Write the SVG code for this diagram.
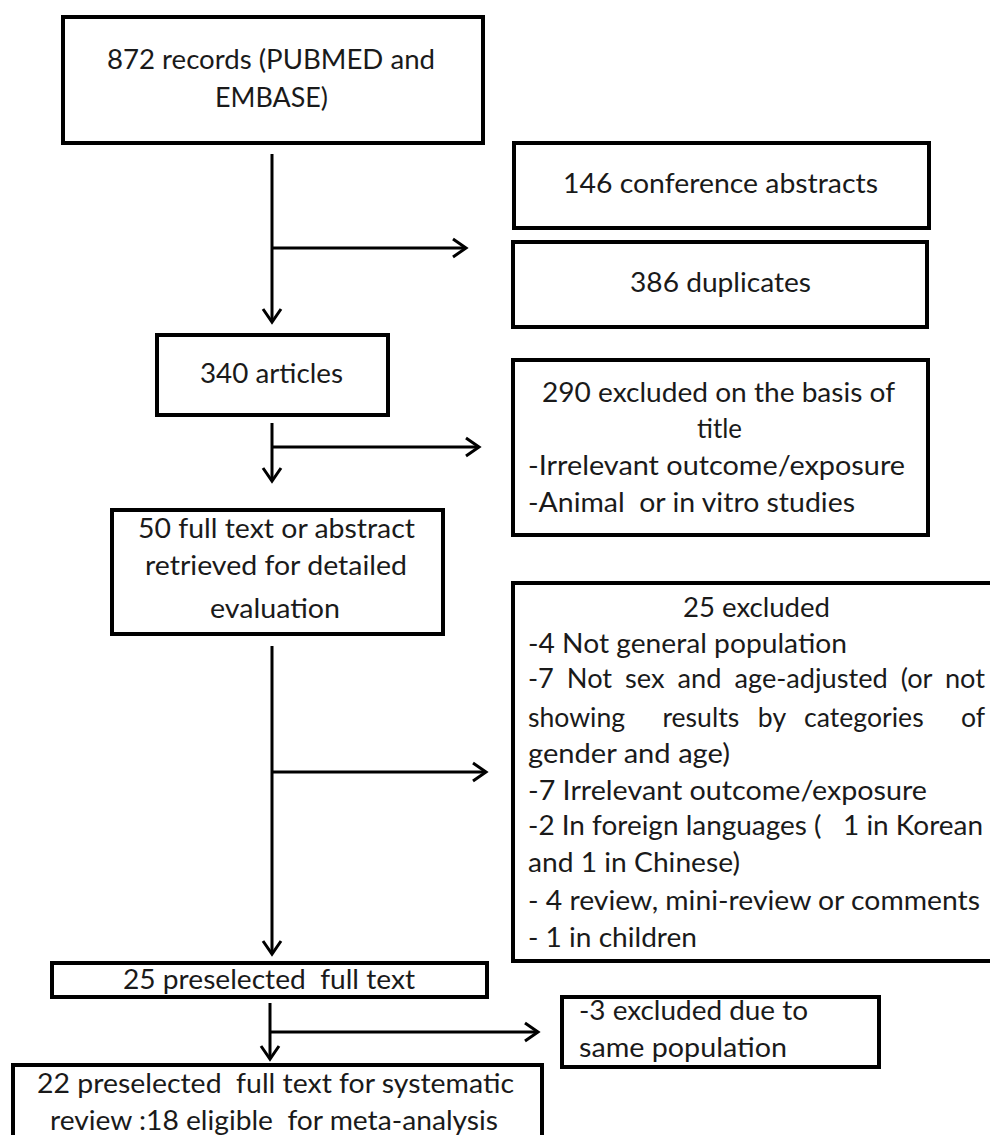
<svg xmlns="http://www.w3.org/2000/svg" width="990" height="1135" viewBox="0 0 990 1135">
<style>
  .box { fill: #ffffff; stroke: #000000; stroke-width: 4; }
  .t { font-family: Lato, "Liberation Sans", sans-serif; font-size: 27px; fill: #1a1a1a; }
  .c { text-anchor: middle; }
  .ln { fill: none; stroke: #000000; stroke-width: 3; }
</style>
<defs>
  <marker id="arr" markerUnits="userSpaceOnUse" markerWidth="24" markerHeight="24" viewBox="-18 -12 24 24" refX="0" refY="0" orient="auto">
    <path d="M -13 -9 L 0 0 L -13 9" fill="none" stroke="#000000" stroke-width="3"/>
  </marker>
</defs>
<rect width="990" height="1135" fill="#ffffff"/>

<g id="connectors">
  <line class="ln" x1="272" y1="154" x2="272" y2="322" marker-end="url(#arr)"/>
  <line class="ln" x1="272" y1="248" x2="466" y2="248" marker-end="url(#arr)"/>
  <line class="ln" x1="272" y1="423" x2="272" y2="481" marker-end="url(#arr)"/>
  <line class="ln" x1="272" y1="447" x2="479" y2="447" marker-end="url(#arr)"/>
  <line class="ln" x1="272" y1="646" x2="272" y2="954" marker-end="url(#arr)"/>
  <line class="ln" x1="272" y1="772" x2="486" y2="772" marker-end="url(#arr)"/>
  <line class="ln" x1="270" y1="1003" x2="270" y2="1059" marker-end="url(#arr)"/>
  <line class="ln" x1="270" y1="1032" x2="538" y2="1032" marker-end="url(#arr)"/>
</g>

<g id="n-records">
  <rect class="box" x="63" y="17" width="420" height="126"/>
  <text class="t c" x="271" y="69" textLength="328" lengthAdjust="spacingAndGlyphs">872 records (PUBMED and</text>
  <text class="t c" x="271.5" y="107" textLength="113" lengthAdjust="spacingAndGlyphs">EMBASE)</text>
</g>

<g id="n-conference">
  <rect class="box" x="514" y="143" width="415" height="85"/>
  <text class="t c" x="720.5" y="193" textLength="315" lengthAdjust="spacingAndGlyphs">146 conference abstracts</text>
</g>

<g id="n-duplicates">
  <rect class="box" x="513" y="242" width="414" height="85"/>
  <text class="t c" x="720.5" y="292" textLength="181" lengthAdjust="spacingAndGlyphs">386 duplicates</text>
</g>

<g id="n-articles">
  <rect class="box" x="157" y="335" width="231" height="80"/>
  <text class="t c" x="271.5" y="383" textLength="143" lengthAdjust="spacingAndGlyphs">340 articles</text>
</g>

<g id="n-excluded-title">
  <rect class="box" x="513" y="360" width="415" height="175"/>
  <text class="t c" x="718.5" y="402" textLength="353" lengthAdjust="spacingAndGlyphs">290 excluded on the basis of</text>
  <text class="t c" x="719.5" y="438" textLength="45" lengthAdjust="spacingAndGlyphs">title</text>
  <text class="t" x="528" y="475" textLength="377" lengthAdjust="spacingAndGlyphs">-Irrelevant outcome/exposure</text>
  <text class="t" x="528" y="512" textLength="327" lengthAdjust="spacingAndGlyphs" xml:space="preserve">-Animal  or in vitro studies</text>
</g>

<g id="n-fulltext">
  <rect class="box" x="112" y="510" width="331" height="124"/>
  <text class="t c" x="276.5" y="538" textLength="277" lengthAdjust="spacingAndGlyphs">50 full text or abstract</text>
  <text class="t c" x="276" y="575" textLength="262" lengthAdjust="spacingAndGlyphs">retrieved for detailed</text>
  <text class="t c" x="275" y="618" textLength="130" lengthAdjust="spacingAndGlyphs">evaluation</text>
</g>

<g id="n-excluded-25">
  <rect class="box" x="513" y="583" width="480" height="378"/>
  <text class="t c" x="756.5" y="617" textLength="147" lengthAdjust="spacingAndGlyphs">25 excluded</text>
  <text class="t" x="528" y="653" textLength="319" lengthAdjust="spacingAndGlyphs">-4 Not general population</text>
  <text class="t" x="528" y="688" word-spacing="6" textLength="457" lengthAdjust="spacingAndGlyphs">-7 Not sex and age-adjusted (or not</text>
  <text class="t" x="528" y="727" word-spacing="12" textLength="457" lengthAdjust="spacingAndGlyphs" xml:space="preserve">showing  results by categories  of</text>
  <text class="t" x="528" y="763" textLength="202" lengthAdjust="spacingAndGlyphs">gender and age)</text>
  <text class="t" x="528" y="800" textLength="399" lengthAdjust="spacingAndGlyphs">-7 Irrelevant outcome/exposure</text>
  <text class="t" x="528" y="835" textLength="455" lengthAdjust="spacingAndGlyphs" xml:space="preserve">-2 In foreign languages (   1 in Korean</text>
  <text class="t" x="528" y="872" textLength="212" lengthAdjust="spacingAndGlyphs">and 1 in Chinese)</text>
  <text class="t" x="528" y="910" textLength="452" lengthAdjust="spacingAndGlyphs">- 4 review, mini-review or comments</text>
  <text class="t" x="528" y="947" textLength="169" lengthAdjust="spacingAndGlyphs">- 1 in children</text>
</g>

<g id="n-preselected-25">
  <rect class="box" x="52" y="963" width="435" height="34"/>
  <text class="t c" x="269" y="989" textLength="292" lengthAdjust="spacingAndGlyphs" xml:space="preserve">25 preselected  full text</text>
</g>

<g id="n-excluded-3">
  <rect class="box" x="562" y="997" width="317" height="70"/>
  <text class="t" x="579" y="1020" textLength="229" lengthAdjust="spacingAndGlyphs">-3 excluded due to</text>
  <text class="t" x="579" y="1057" textLength="208" lengthAdjust="spacingAndGlyphs">same population</text>
</g>

<g id="n-final">
  <rect class="box" x="13" y="1065" width="529" height="80"/>
  <text class="t c" x="275.5" y="1093" textLength="477" lengthAdjust="spacingAndGlyphs" xml:space="preserve">22 preselected  full text for systematic</text>
  <text class="t c" x="274" y="1130" textLength="448" lengthAdjust="spacingAndGlyphs" xml:space="preserve">review :18 eligible  for meta-analysis</text>
</g>
</svg>
